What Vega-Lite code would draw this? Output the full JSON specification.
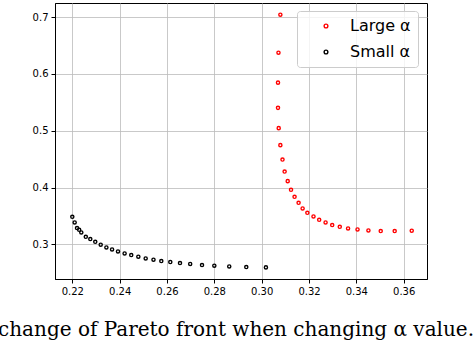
{
  "$schema": "https://vega.github.io/schema/vega-lite/v6.json",
  "autosize": "none",
  "padding": {"left": 55, "top": 3, "right": 47, "bottom": 63},
  "width": 372,
  "height": 276,
  "background": "white",
  "config": {
    "view": {"stroke": "black", "strokeWidth": 1},
    "axis": {
      "labelFont": "DejaVu Sans",
      "labelFontSize": 10,
      "labelColor": "black",
      "domainColor": "black",
      "domainWidth": 1,
      "tickColor": "black",
      "tickSize": 4,
      "tickWidth": 1,
      "labelPadding": 3,
      "gridColor": "#bbbbbb",
      "gridWidth": 0.8,
      "title": null
    }
  },
  "title": {
    "text": "change of Pareto front when changing α value.",
    "orient": "bottom",
    "anchor": "start",
    "frame": "group",
    "font": "DejaVu Serif",
    "fontSize": 20,
    "fontWeight": "normal",
    "color": "black",
    "dx": -57,
    "offset": 24
  },
  "data": {
    "values": [
      {"x": 0.2200, "y": 0.3487, "series": "Small α"},
      {"x": 0.2210, "y": 0.3387, "series": "Small α"},
      {"x": 0.2220, "y": 0.3288, "series": "Small α"},
      {"x": 0.2229, "y": 0.3258, "series": "Small α"},
      {"x": 0.2238, "y": 0.3211, "series": "Small α"},
      {"x": 0.2257, "y": 0.3135, "series": "Small α"},
      {"x": 0.2276, "y": 0.3095, "series": "Small α"},
      {"x": 0.2297, "y": 0.3047, "series": "Small α"},
      {"x": 0.2320, "y": 0.2995, "series": "Small α"},
      {"x": 0.2344, "y": 0.2947, "series": "Small α"},
      {"x": 0.2368, "y": 0.2912, "series": "Small α"},
      {"x": 0.2393, "y": 0.2877, "series": "Small α"},
      {"x": 0.2421, "y": 0.2842, "series": "Small α"},
      {"x": 0.2449, "y": 0.2814, "series": "Small α"},
      {"x": 0.2479, "y": 0.2784, "series": "Small α"},
      {"x": 0.2510, "y": 0.2754, "series": "Small α"},
      {"x": 0.2543, "y": 0.2731, "series": "Small α"},
      {"x": 0.2576, "y": 0.2708, "series": "Small α"},
      {"x": 0.2614, "y": 0.2691, "series": "Small α"},
      {"x": 0.2655, "y": 0.2673, "series": "Small α"},
      {"x": 0.2698, "y": 0.2656, "series": "Small α"},
      {"x": 0.2748, "y": 0.2638, "series": "Small α"},
      {"x": 0.2800, "y": 0.2626, "series": "Small α"},
      {"x": 0.2863, "y": 0.2613, "series": "Small α"},
      {"x": 0.2935, "y": 0.2603, "series": "Small α"},
      {"x": 0.3018, "y": 0.2596, "series": "Small α"},
      {"x": 0.3079, "y": 0.7042, "series": "Large α"},
      {"x": 0.3071, "y": 0.6374, "series": "Large α"},
      {"x": 0.3069, "y": 0.5847, "series": "Large α"},
      {"x": 0.3069, "y": 0.5403, "series": "Large α"},
      {"x": 0.3072, "y": 0.5046, "series": "Large α"},
      {"x": 0.3079, "y": 0.4747, "series": "Large α"},
      {"x": 0.3088, "y": 0.4494, "series": "Large α"},
      {"x": 0.3097, "y": 0.4283, "series": "Large α"},
      {"x": 0.3110, "y": 0.4114, "series": "Large α"},
      {"x": 0.3124, "y": 0.3961, "series": "Large α"},
      {"x": 0.3139, "y": 0.3838, "series": "Large α"},
      {"x": 0.3156, "y": 0.3733, "series": "Large α"},
      {"x": 0.3173, "y": 0.3633, "series": "Large α"},
      {"x": 0.3193, "y": 0.3557, "series": "Large α"},
      {"x": 0.3219, "y": 0.3492, "series": "Large α"},
      {"x": 0.3243, "y": 0.3434, "series": "Large α"},
      {"x": 0.3270, "y": 0.3387, "series": "Large α"},
      {"x": 0.3298, "y": 0.3341, "series": "Large α"},
      {"x": 0.3330, "y": 0.3311, "series": "Large α"},
      {"x": 0.3365, "y": 0.3281, "series": "Large α"},
      {"x": 0.3405, "y": 0.3264, "series": "Large α"},
      {"x": 0.3451, "y": 0.3246, "series": "Large α"},
      {"x": 0.3503, "y": 0.3235, "series": "Large α"},
      {"x": 0.3562, "y": 0.3235, "series": "Large α"},
      {"x": 0.3634, "y": 0.3241, "series": "Large α"}
    ]
  },
  "mark": {"type": "point", "shape": "circle", "filled": false, "size": 10, "strokeWidth": 1.4, "opacity": 1},
  "encoding": {
    "x": {
      "field": "x",
      "type": "quantitative",
      "scale": {"domain": [0.21269, 0.36985], "nice": false, "zero": false},
      "axis": {"values": [0.22, 0.24, 0.26, 0.28, 0.30, 0.32, 0.34, 0.36], "format": ".2f", "grid": true}
    },
    "y": {
      "field": "y",
      "type": "quantitative",
      "scale": {"domain": [0.2392, 0.7248], "nice": false, "zero": false},
      "axis": {"values": [0.3, 0.4, 0.5, 0.6, 0.7], "format": ".1f", "grid": true}
    },
    "color": {
      "field": "series",
      "type": "nominal",
      "scale": {"domain": ["Large α", "Small α"], "range": ["#ff0000", "#000000"]},
      "legend": {
        "title": null,
        "orient": "none",
        "legendX": 242,
        "legendY": 8,
        "labelFont": "DejaVu Sans",
        "labelFontSize": 16,
        "labelColor": "black",
        "symbolType": "circle",
        "symbolSize": 14,
        "symbolStrokeWidth": 1.4,
        "symbolOffset": 14,
        "labelOffset": 16,
        "rowPadding": 10,
        "padding": 7,
        "fillColor": "rgba(255,255,255,0.8)",
        "strokeColor": "#cccccc",
        "cornerRadius": 3
      }
    }
  }
}
